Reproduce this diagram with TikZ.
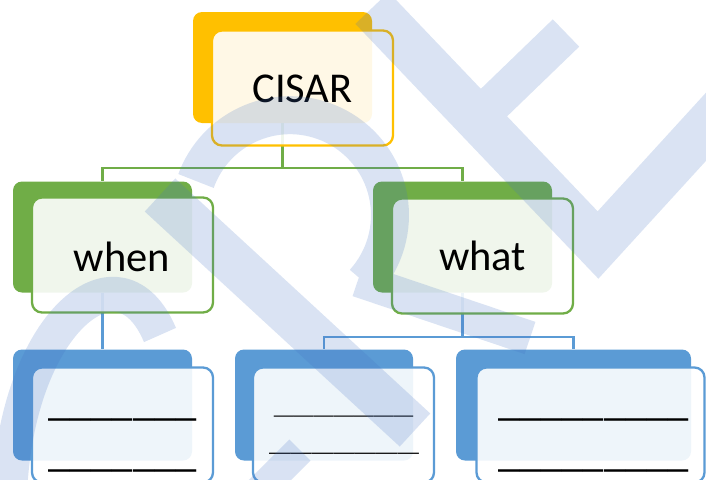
\documentclass[tikz,border=0pt]{standalone}
\usepackage{fontspec}
\setmainfont{Carlito}
\definecolor{corange}{HTML}{FFC000}
\definecolor{cgreen}{HTML}{70AD47}
\definecolor{cblue}{HTML}{5B9BD5}
\definecolor{wmark}{HTML}{4472C4}
\tikzset{
  backbox/.style={rectangle, rounded corners=9pt, inner sep=0pt, minimum width=179pt, minimum height=111pt},
  frontbox/.style={rectangle, rounded corners=10pt, inner sep=0pt, minimum width=181pt, minimum height=115pt, fill=white, fill opacity=0.9, line width=2.3pt},
  boxtext/.style={font=\fontsize{42.5}{50}\selectfont, anchor=base, inner sep=0pt, text=black},
  blanktext/.style={font=\fontsize{42.6}{50}\selectfont, anchor=base, inner sep=0pt, text=black},
  gline/.style={draw=cgreen, line width=2.2pt},
  bline/.style={draw=cblue, line width=2.2pt},
  wm/.style={draw=wmark, line cap=butt},
}
\begin{document}
\begin{tikzpicture}[x=1pt,y=-1pt]
\path[use as bounding box] (0,0) rectangle (706,479);
\clip (0,0) rectangle (706,479);
% back boxes
\node[backbox, fill=corange] (cb) at (282.5,67.5) {};
\node[backbox, fill=cgreen] (wb) at (102.5,237) {};
\node[backbox, fill=cgreen] (hb) at (462.5,237) {};
\node[backbox, fill=cblue] (b1b) at (102.5,405) {};
\node[backbox, fill=cblue, minimum width=178pt] (b2b) at (324,405) {};
\node[backbox, fill=cblue, minimum width=235pt] (b3b) at (573.5,405) {};
% connectors
\coordinate (j1) at (282.5,168);
\draw[gline] (cb.south) -- (j1) -| (wb.north);
\draw[gline] (j1) -| (hb.north);
\draw[bline] (wb.south) -- (b1b.north);
\coordinate (j2) at (462.5,337);
\draw[bline] (hb.south) -- (j2) -| (b2b.north);
\draw[bline] (j2) -| (b3b.north);
% front boxes
\node[frontbox, draw=corange] (cf) at (302.5,88) {};
\node[frontbox, draw=cgreen] (wf) at (122.5,255) {};
\node[frontbox, draw=cgreen] (hf) at (482.5,256) {};
\node[frontbox, draw=cblue] (b1f) at (122.5,425) {};
\node[frontbox, draw=cblue] (b2f) at (343.5,425) {};
\node[frontbox, draw=cblue, minimum width=228pt] (b3f) at (590.5,425) {};
% texts
\node[boxtext] (tc) at (302.5,102) {CISAR};
\node[boxtext] (tw) at (122,271) {when};
\node[boxtext] (th) at (482.5,270) {what};
\node[blanktext] (l11) at (122.5,415) {\_\_\_\_\_\_\_};
\node[blanktext] (l12) at (122.5,466) {\_\_\_\_\_\_\_};
\node[blanktext, font=\fontsize{40}{48}\selectfont] (l21) at (343.5,414) {\scalebox{1}[0.5]{\_\_\_\_\_\_\_}};
\node[blanktext, font=\fontsize{43}{50}\selectfont] (l22) at (344,451) {\scalebox{1}[0.5]{\_\_\_\_\_\_\_}};
\node[blanktext] (l31) at (593.5,415) {\_\_\_\_\_\_\_\_\_};
\node[blanktext] (l32) at (593.5,466) {\_\_\_\_\_\_\_\_\_};
% watermark
\begin{scope}[transparency group, opacity=0.2]
\draw[wm, line width=46pt, line join=miter] (372,8) -- (598,245) -- (735,95);
\draw[wm, line width=38pt] (566,33) -- (478,118);
\draw[wm, line width=38pt] (196,181) arc[start angle=160, end angle=-42, radius=100pt];
\draw[wm, line width=34pt] (358,280) -- (530,338);
\draw[wm, line width=45pt] (160,195) -- (415,430);
\draw[wm, line width=35pt] (10,485) .. controls (20,320) and (120,240) .. (160,335);
\draw[wm, line width=30pt] (255,495) -- (300,450);
\end{scope}
\end{tikzpicture}
\end{document}
